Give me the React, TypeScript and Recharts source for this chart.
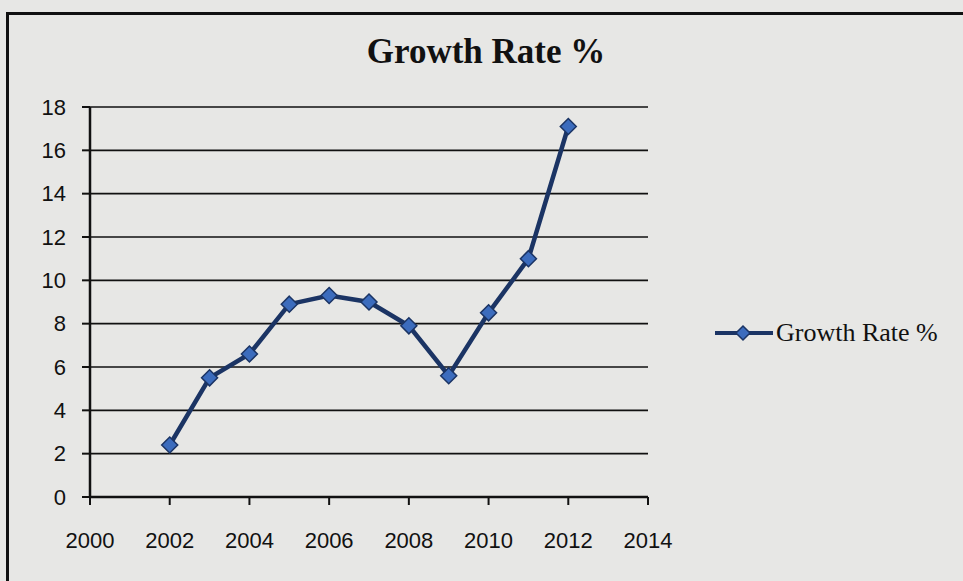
import { CartesianGrid, Line, LineChart, XAxis, YAxis } from "recharts";

const YEARS = [2002, 2003, 2004, 2005, 2006, 2007, 2008, 2009, 2010, 2011, 2012];
const GROWTH = [2.4, 5.5, 6.6, 8.9, 9.3, 9.0, 7.9, 5.6, 8.5, 11.0, 17.1];
const X_TICKS = [2000, 2002, 2004, 2006, 2008, 2010, 2012, 2014];
const Y_TICKS = [0, 2, 4, 6, 8, 10, 12, 14, 16, 18];
const SERIES = "Growth Rate %";

const data = YEARS.map((y, i) => ({ year: y, rate: GROWTH[i] }));

const LINE = "#1b3464";
const FILL = "#3c6cbd";
const tickFont = { fontFamily: "'Liberation Sans', Arial, sans-serif", fontSize: 22, fill: "#111" };

function Diamond(props: any) {
  const { cx, cy } = props;
  if (cx == null || cy == null) return null;
  const r = 8;
  return (
    <polygon
      points={`${cx},${cy - r} ${cx + r},${cy} ${cx},${cy + r} ${cx - r},${cy}`}
      fill={FILL}
      stroke={LINE}
      strokeWidth={1.5}
    />
  );
}

// legend drawn by hand, a recharts Legend on the right eats plot width
function LegendBox() {
  return (
    <div style={{ position: "absolute", left: 715, top: 318, display: "flex", alignItems: "center" }}>
      <svg width={60} height={20}>
        <line x1={0} y1={10} x2={58} y2={10} stroke={LINE} strokeWidth={4} />
        <polygon points="28,3 35,10 28,17 21,10" fill={FILL} stroke={LINE} strokeWidth={1.5} />
      </svg>
      <span
        style={{
          fontFamily: "'Liberation Serif', 'Times New Roman', serif",
          fontSize: 26,
          color: "#111",
          marginLeft: 1,
        }}
      >
        {SERIES}
      </span>
    </div>
  );
}

export default function App() {
  return (
    <div
      style={{
        position: "fixed",
        left: 0,
        top: 0,
        width: 963,
        height: 581,
        background: "#e7e7e5",
        overflow: "hidden",
      }}
    >
      <div
        style={{
          position: "absolute",
          left: 6,
          top: 12,
          width: 963,
          height: 566,
          borderLeft: "3px solid #111",
          borderTop: "3px solid #111",
          borderBottom: "3px solid #222",
        }}
      />
      <div
        style={{
          position: "absolute",
          left: 0,
          width: 972,
          top: 32,
          textAlign: "center",
          fontFamily: "'Liberation Serif', 'Times New Roman', serif",
          fontWeight: "bold",
          fontSize: 35,
          color: "#111",
        }}
      >
        Growth Rate %
      </div>
      <div style={{ position: "absolute", left: 0, top: 0 }}>
        <LineChart
          width={963}
          height={581}
          data={data}
          margin={{ top: 107, right: 315, bottom: 34, left: 20 }}
        >
          <CartesianGrid vertical={false} stroke="#111" strokeWidth={1.6} />
          <XAxis
            dataKey="year"
            type="number"
            domain={[2000, 2014]}
            ticks={X_TICKS}
            interval={0}
            height={50}
            tickSize={8}
            tickMargin={27}
            tick={tickFont}
            axisLine={{ stroke: "#111", strokeWidth: 2.5 }}
            tickLine={{ stroke: "#111", strokeWidth: 2 }}
          />
          <YAxis
            type="number"
            domain={[0, 18]}
            ticks={Y_TICKS}
            interval={0}
            width={70}
            tickSize={8}
            tickMargin={16}
            tick={tickFont}
            axisLine={{ stroke: "#111", strokeWidth: 2.5 }}
            tickLine={{ stroke: "#111", strokeWidth: 2 }}
          />
          <Line
            type="linear"
            dataKey="rate"
            name={SERIES}
            stroke={LINE}
            strokeWidth={4.5}
            dot={<Diamond />}
            activeDot={false}
            isAnimationActive={false}
          />
        </LineChart>
      </div>
      <LegendBox />
    </div>
  );
}
